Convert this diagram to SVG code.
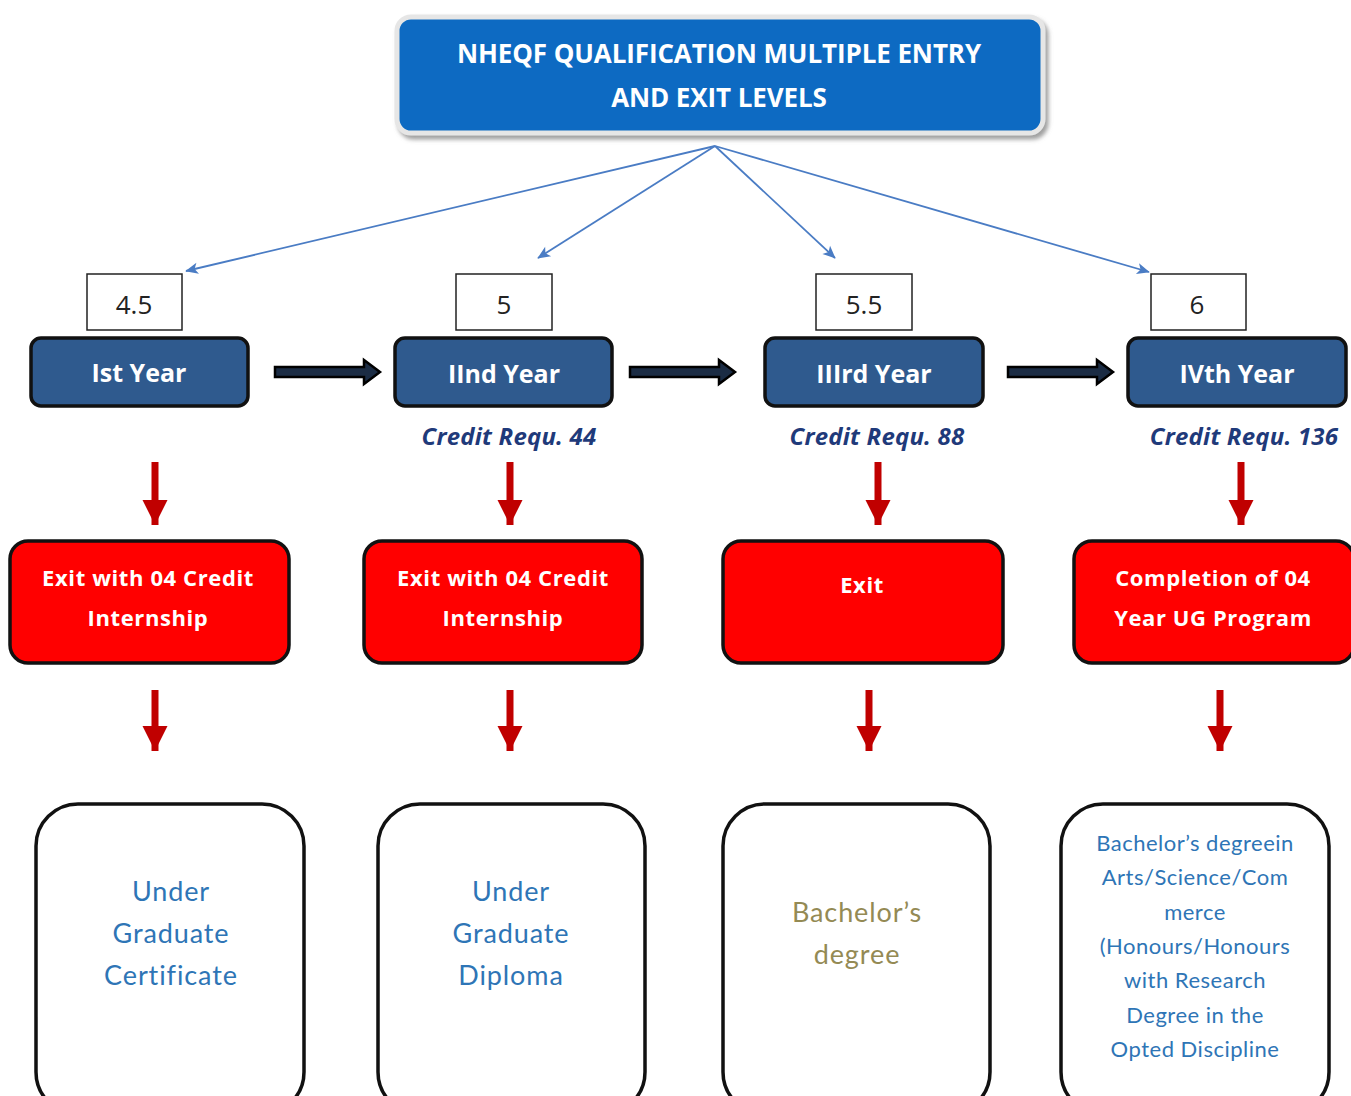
<svg xmlns="http://www.w3.org/2000/svg" width="1351" height="1096" viewBox="0 0 1351 1096">
<style>
.title{font-family:"Open Sans","Liberation Sans",sans-serif;font-weight:bold;font-size:26px;fill:#fff;text-anchor:middle;letter-spacing:-0.1px}
.num{fill:#fff;stroke:#222;stroke-width:1.5}
.numt{font-family:"Open Sans","Liberation Sans",sans-serif;font-size:26px;fill:#222;text-anchor:middle}
.year{fill:#2f5a8e;stroke:#111;stroke-width:3.5}
.yeart{font-family:"Open Sans","Liberation Sans",sans-serif;font-weight:bold;font-size:25px;fill:#fff;text-anchor:middle}
.cred{font-family:"Open Sans","Liberation Sans",sans-serif;font-weight:bold;font-style:italic;font-size:24px;fill:#1f3a7a;text-anchor:middle;letter-spacing:0.2px}
.exit{fill:#ff0000;stroke:#111;stroke-width:3.5}
.exitt{font-family:"Open Sans","Liberation Sans",sans-serif;font-weight:bold;font-size:22px;fill:#fff;text-anchor:middle;letter-spacing:0.6px}
.out{fill:#fff;stroke:#111;stroke-width:3.5}
.outt{font-family:Lato,"Open Sans",sans-serif;font-size:27px;fill:#2e75b6;text-anchor:middle;letter-spacing:0.9px}
.outs{font-family:Lato,"Open Sans",sans-serif;font-size:22px;fill:#2e75b6;text-anchor:middle;letter-spacing:0.5px}
.blue{stroke:#4a7cc4;stroke-width:1.8;fill:none;marker-end:url(#bh)}
.red{stroke:#c00000;stroke-width:7;fill:none;marker-end:url(#rh)}
.blk{fill:#1b2c44;stroke:#000;stroke-width:2.5;stroke-linejoin:miter}
</style>
<defs>
<marker id="bh" viewBox="0 0 10 10" refX="9" refY="5" markerWidth="8" markerHeight="8" markerUnits="userSpaceOnUse" orient="auto" overflow="visible">
<path d="M-6,-2 L10,5 L-6,12 L-2,5 Z" fill="#4a7cc4"/>
</marker>
<marker id="rh" viewBox="0 0 10 10" refX="10" refY="5" markerWidth="3.6" markerHeight="3.6" orient="auto">
<path d="M0,0 L10,5 L0,10 Z" fill="#c00000"/>
</marker>
<filter id="sh" x="-5%" y="-10%" width="110%" height="130%">
<feDropShadow dx="3" dy="4" stdDeviation="2" flood-color="#888" flood-opacity="0.8"/>
</filter>
</defs>
<rect width="1351" height="1096" fill="#fff"/>

<g id="title">
<rect x="397" y="17" width="646" height="116" rx="14" fill="#0b6bc2" stroke="#e6e6e6" stroke-width="5" filter="url(#sh)"/>
<text class="title" x="719" y="63">NHEQF QUALIFICATION MULTIPLE ENTRY</text>
<text class="title" x="719" y="107">AND EXIT LEVELS</text>
</g>

<g id="connectors">
<line class="blue" x1="715" y1="146" x2="186" y2="271"/>
<line class="blue" x1="715" y1="146" x2="538" y2="258"/>
<line class="blue" x1="715" y1="146" x2="835" y2="258"/>
<line class="blue" x1="715" y1="146" x2="1149" y2="272"/>
<path class="blk" d="M275,367 L364,367 L364,360 L380,372 L364,384 L364,377 L275,377 Z"/>
<path class="blk" d="M630,367 L719,367 L719,360 L735,372 L719,384 L719,377 L630,377 Z"/>
<path class="blk" d="M1008,367 L1097,367 L1097,360 L1113,372 L1097,384 L1097,377 L1008,377 Z"/>
<line class="red" x1="155" y1="462" x2="155" y2="525"/>
<line class="red" x1="510" y1="462" x2="510" y2="525"/>
<line class="red" x1="878" y1="462" x2="878" y2="525"/>
<line class="red" x1="1241" y1="462" x2="1241" y2="525"/>
<line class="red" x1="155" y1="690" x2="155" y2="751"/>
<line class="red" x1="510" y1="690" x2="510" y2="751"/>
<line class="red" x1="869" y1="690" x2="869" y2="751"/>
<line class="red" x1="1220" y1="690" x2="1220" y2="751"/>
</g>

<g id="level-4-5">
<rect class="num" x="87" y="274" width="95" height="56"/>
<text class="numt" x="134" y="314">4.5</text>
</g>
<g id="level-5">
<rect class="num" x="456" y="274" width="96" height="56"/>
<text class="numt" x="504" y="314">5</text>
</g>
<g id="level-5-5">
<rect class="num" x="816" y="274" width="96" height="56"/>
<text class="numt" x="864" y="314">5.5</text>
</g>
<g id="level-6">
<rect class="num" x="1151" y="274" width="95" height="56"/>
<text class="numt" x="1197" y="314">6</text>
</g>

<g id="year1">
<rect class="year" x="31" y="338" width="217" height="68" rx="10"/>
<text class="yeart" x="139" y="382">Ist Year</text>
</g>
<g id="year2">
<rect class="year" x="395" y="338" width="217" height="68" rx="10"/>
<text class="yeart" x="504" y="383">IInd Year</text>
<text class="cred" x="509" y="445">Credit Requ. 44</text>
</g>
<g id="year3">
<rect class="year" x="765" y="338" width="218" height="68" rx="10"/>
<text class="yeart" x="874" y="383">IIIrd Year</text>
<text class="cred" x="877" y="445">Credit Requ. 88</text>
</g>
<g id="year4">
<rect class="year" x="1128" y="338" width="218" height="68" rx="10"/>
<text class="yeart" x="1237" y="383">IVth Year</text>
<text class="cred" x="1244" y="445">Credit Requ. 136</text>
</g>

<g id="exit1">
<rect class="exit" x="10" y="541" width="279" height="122" rx="18"/>
<text class="exitt" x="148" y="586">Exit with  04 Credit</text>
<text class="exitt" x="148" y="626">Internship</text>
</g>
<g id="exit2">
<rect class="exit" x="364" y="541" width="278" height="122" rx="18"/>
<text class="exitt" x="503" y="586">Exit with  04 Credit</text>
<text class="exitt" x="503" y="626">Internship</text>
</g>
<g id="exit3">
<rect class="exit" x="723" y="541" width="280" height="122" rx="18"/>
<text class="exitt" x="862" y="593">Exit</text>
</g>
<g id="exit4">
<rect class="exit" x="1074" y="541" width="280" height="122" rx="18"/>
<text class="exitt" x="1213" y="586">Completion of 04</text>
<text class="exitt" x="1213" y="626">Year UG Program</text>
</g>

<g id="out1">
<rect class="out" x="36" y="804" width="268" height="310" rx="42"/>
<text class="outt" x="171" y="901">Under</text>
<text class="outt" x="171" y="943">Graduate</text>
<text class="outt" x="171" y="985">Certificate</text>
</g>
<g id="out2">
<rect class="out" x="378" y="804" width="267" height="310" rx="42"/>
<text class="outt" x="511" y="901">Under</text>
<text class="outt" x="511" y="943">Graduate</text>
<text class="outt" x="511" y="985">Diploma</text>
</g>
<g id="out3">
<rect class="out" x="723" y="804" width="267" height="310" rx="42"/>
<text class="outt" x="857" y="922" style="fill:#948a54">Bachelor’s</text>
<text class="outt" x="857" y="964" style="fill:#948a54">degree</text>
</g>
<g id="out4">
<rect class="out" x="1061" y="804" width="268" height="310" rx="42"/>
<text class="outs" x="1195" y="851">Bachelor’s degreein</text>
<text class="outs" x="1195" y="885">Arts/Science/Com</text>
<text class="outs" x="1195" y="920">merce</text>
<text class="outs" x="1195" y="954">(Honours/Honours</text>
<text class="outs" x="1195" y="988">with Research</text>
<text class="outs" x="1195" y="1023">Degree in the</text>
<text class="outs" x="1195" y="1057">Opted Discipline</text>
</g>
</svg>
